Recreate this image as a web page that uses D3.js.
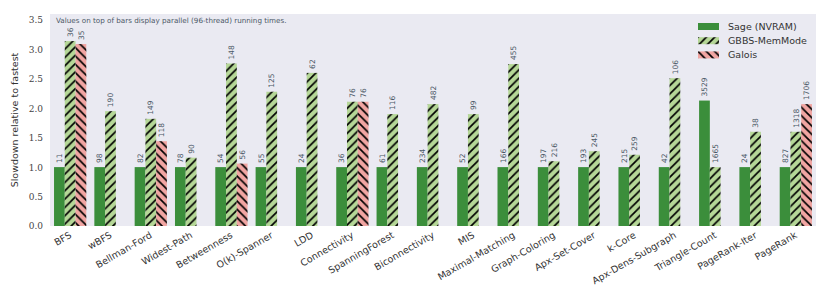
<!DOCTYPE html>
<html>
<head>
<meta charset="utf-8">
<script src="https://cdn.jsdelivr.net/npm/d3@7/dist/d3.min.js"></script>
<style>
  body { margin: 0; background: #fff; }
  svg text { font-family: "DejaVu Sans", sans-serif; }
</style>
</head>
<body>
<div id="chart"></div>
<script>
// Data
var categories = ["BFS", "wBFS", "Bellman-Ford", "Widest-Path", "Betweenness", "O(k)-Spanner",
    "LDD", "Connectivity", "SpanningForest", "Biconnectivity", "MIS", "Maximal-Matching",
    "Graph-Coloring", "Apx-Set-Cover", "k-Core", "Apx-Dens-Subgraph", "Triangle-Count",
    "PageRank-Iter", "PageRank"];
var seriesNames = ["Sage (NVRAM)", "GBBS-MemMode", "Galois"];
var sageVals = [1, 1, 1, 1, 1, 1, 1, 1, 1, 1, 1, 1, 1, 1, 1, 1, 2.13, 1, 1];
var gbbsVals = [3.14, 1.95, 1.82, 1.16, 2.76, 2.28, 2.60, 2.11, 1.90, 2.07, 1.90, 2.75,
    1.10, 1.27, 1.21, 2.51, 1.0, 1.60, 1.60];
var galoisVals = [3.09, null, 1.44, null, 1.06, null, null, 2.11, null, null, null, null,
    null, null, null, null, null, null, 2.07];
var sageTimes = [11, 98, 82, 78, 54, 55, 24, 36, 61, 234, 52, 166, 197, 193, 215, 42, 3529, 24, 827];
var gbbsTimes = [36, 190, 149, 90, 148, 125, 62, 76, 116, 482, 99, 455, 216, 245, 259, 106, 1665, 38, 1318];
var galoisTimes = [35, null, 118, null, 56, null, null, 76, null, null, null, null,
    null, null, null, null, null, null, 1706];
var yTicks = [0, 0.5, 1.0, 1.5, 2.0, 2.5, 3.0, 3.5];
var note = "Values on top of bars display parallel (96-thread) running times.";

var W = 830, H = 300;
var margin = { top: 14, right: 14, bottom: 74, left: 50 };
var width = W - margin.left - margin.right,
    height = H - margin.top - margin.bottom;

var colors = ["#3b8e3b", "#b5d797", "#f1a5a2"];
var fills = [colors[0], "url(#hatchFwd)", "url(#hatchBack)"];

var svg = d3.select("#chart").append("svg")
    .attr("width", W).attr("height", H);

// hatch patterns
var defs = svg.append("defs");
function makeHatch(id, bg, forward) {
    var s = 8.33;
    var p = defs.append("pattern")
        .attr("id", id)
        .attr("patternUnits", "userSpaceOnUse")
        .attr("width", s).attr("height", s);
    p.append("rect").attr("width", s).attr("height", s).attr("fill", bg);
    var d = forward
        ? "M0," + s + "L" + s + ",0M" + (-s / 4) + "," + (s / 4) + "L" + (s / 4) + "," + (-s / 4) +
          "M" + (3 * s / 4) + "," + (5 * s / 4) + "L" + (5 * s / 4) + "," + (3 * s / 4)
        : "M0,0L" + s + "," + s + "M" + (-s / 4) + "," + (3 * s / 4) + "L" + (s / 4) + "," + (5 * s / 4) +
          "M" + (3 * s / 4) + "," + (-s / 4) + "L" + (5 * s / 4) + "," + (s / 4);
    p.append("path").attr("d", d)
        .attr("stroke", "#000").attr("stroke-width", 1.7);
}
makeHatch("hatchFwd", colors[1], true);
makeHatch("hatchBack", colors[2], false);

var g = svg.append("g")
    .attr("transform", "translate(" + margin.left + "," + margin.top + ")");

g.append("rect")
    .attr("width", width).attr("height", height)
    .attr("fill", "#eaeaf2");

var x = d3.scaleBand()
    .domain(categories)
    .range([0, width])
    .paddingInner(0.2)
    .paddingOuter(0.1);

var xSub = d3.scaleBand()
    .domain([0, 1, 2])
    .range([0, x.bandwidth()]);

var y = d3.scaleLinear()
    .domain([0, 3.6])
    .range([height, 0]);

// y axis
var yAxis = g.append("g")
    .call(d3.axisLeft(y).tickValues(yTicks).tickSize(0).tickPadding(7)
        .tickFormat(d3.format(".1f")));
yAxis.select(".domain").remove();
yAxis.selectAll("text")
    .style("font-family", "'DejaVu Serif', serif")
    .style("font-size", "9px")
    .attr("fill", "#444");

g.append("text")
    .attr("transform", "translate(" + (-32) + "," + (height / 2) + ") rotate(-90)")
    .attr("text-anchor", "middle")
    .style("font-size", "9.5px")
    .attr("fill", "#333")
    .text("Slowdown relative to fastest");

// x axis
var xAxis = g.append("g")
    .attr("transform", "translate(0," + height + ")")
    .call(d3.axisBottom(x).tickSize(0).tickPadding(0));
xAxis.select(".domain").remove();
xAxis.selectAll("text")
    .attr("text-anchor", "end")
    .attr("dy", 0)
    .attr("transform", "translate(2,11) rotate(-30)")
    .style("font-size", "9.5px")
    .attr("fill", "#333");

// bars
var series = [sageVals, gbbsVals, galoisVals];
var times = [sageTimes, gbbsTimes, galoisTimes];
var barData = [];
series.forEach(function (vals, s) {
    vals.forEach(function (v, i) {
        if (v != null) barData.push({ cat: categories[i], s: s, v: v, t: times[s][i] });
    });
});

g.selectAll("rect.bar")
    .data(barData)
    .enter().append("rect")
    .attr("class", "bar")
    .attr("x", function (d) { return x(d.cat) + xSub(d.s); })
    .attr("y", function (d) { return y(d.v); })
    .attr("width", xSub.bandwidth())
    .attr("height", function (d) { return height - y(d.v); })
    .attr("fill", function (d) { return fills[d.s]; });

g.selectAll("text.val")
    .data(barData)
    .enter().append("text")
    .attr("class", "val")
    .attr("transform", function (d) {
        var cx = x(d.cat) + xSub(d.s) + xSub.bandwidth() / 2;
        return "translate(" + (cx + 2.7) + "," + (y(d.v) - 4) + ") rotate(-90)";
    })
    .style("font-size", "7.5px")
    .attr("fill", "#4a5866")
    .text(function (d) { return d.t; });

// note
g.append("text")
    .attr("x", 6).attr("y", 9)
    .style("font-size", "7.2px")
    .attr("fill", "#4a5866")
    .text(note);

// legend
var legend = g.append("g")
    .attr("transform", "translate(" + (698 - margin.left) + "," + (23 - margin.top) + ")");
seriesNames.forEach(function (name, i) {
    var row = legend.append("g").attr("transform", "translate(0," + (i * 14.2) + ")");
    row.append("rect")
        .attr("width", 21).attr("height", 7)
        .attr("fill", fills[i]);
    row.append("text")
        .attr("x", 30).attr("y", 7)
        .style("font-size", "9.5px")
        .attr("fill", "#333")
        .text(name);
});
</script>
</body>
</html>
